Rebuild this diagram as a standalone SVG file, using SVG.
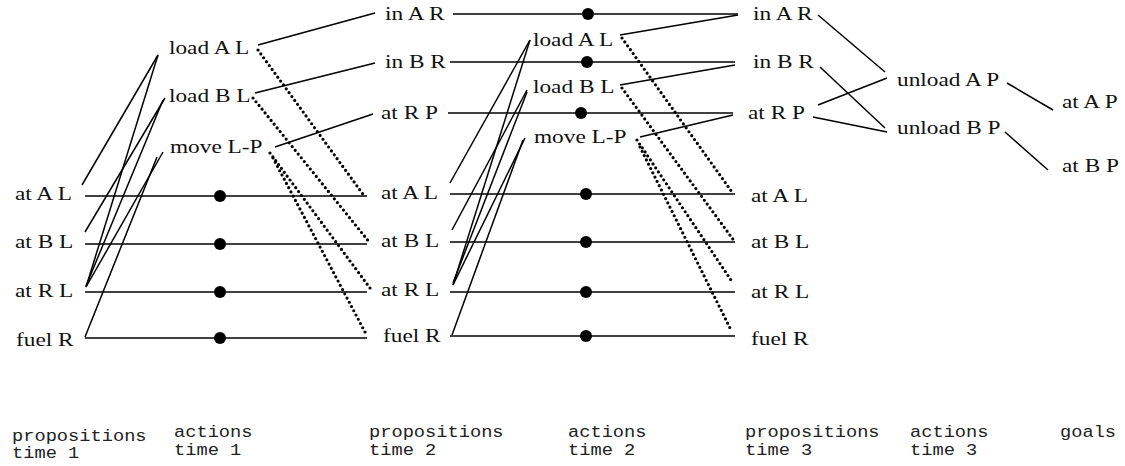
<svg xmlns="http://www.w3.org/2000/svg" width="1125" height="466" viewBox="0 0 1125 466">
<style>
.lbl{font-family:"Liberation Serif","Times New Roman",serif;font-size:18.5px;fill:#111}
.cap{font-family:"Liberation Mono","Courier New",monospace;font-size:17px;fill:#222}
.ln{stroke:#000;stroke-width:1.5;fill:none}
.dl{stroke:#000;stroke-width:3.2;stroke-linecap:round;stroke-dasharray:0 4.8;fill:none}
.dot{fill:#000}
</style>
<rect width="1125" height="466" fill="#fff"/>
<g id="connectors">
<line class="ln" x1="85" y1="196" x2="367" y2="196"/>
<line class="ln" x1="85" y1="244" x2="367" y2="244"/>
<line class="ln" x1="85" y1="292" x2="367" y2="292"/>
<line class="ln" x1="85" y1="338" x2="367" y2="338"/>
<circle class="dot" cx="220" cy="196" r="6"/>
<circle class="dot" cx="220" cy="244" r="6"/>
<circle class="dot" cx="220" cy="292" r="6"/>
<circle class="dot" cx="220" cy="338" r="6"/>
<line class="ln" x1="82" y1="185" x2="158" y2="55"/>
<line class="ln" x1="85" y1="232" x2="165" y2="98"/>
<line class="ln" x1="86" y1="287" x2="158" y2="55"/>
<line class="ln" x1="86" y1="286" x2="163" y2="100"/>
<line class="ln" x1="86" y1="287" x2="163" y2="152"/>
<line class="ln" x1="85" y1="337" x2="157" y2="157"/>
<line class="ln" x1="258" y1="45" x2="375" y2="13"/>
<line class="ln" x1="255" y1="93" x2="375" y2="63"/>
<line class="ln" x1="275" y1="147" x2="373" y2="114"/>
<line class="dl" x1="258" y1="50" x2="365" y2="197"/>
<line class="dl" x1="253" y1="98" x2="370" y2="243"/>
<line class="dl" x1="270" y1="153" x2="370" y2="288"/>
<line class="dl" x1="273" y1="158" x2="365" y2="332"/>
<line class="ln" x1="453" y1="14" x2="738" y2="14"/>
<line class="ln" x1="450" y1="62" x2="735" y2="62"/>
<line class="ln" x1="448" y1="113" x2="733" y2="113"/>
<line class="ln" x1="450" y1="194" x2="735" y2="194"/>
<line class="ln" x1="450" y1="242" x2="735" y2="242"/>
<line class="ln" x1="450" y1="292" x2="735" y2="292"/>
<line class="ln" x1="450" y1="336" x2="735" y2="336"/>
<circle class="dot" cx="588" cy="14" r="6"/>
<circle class="dot" cx="587" cy="62" r="6"/>
<circle class="dot" cx="581" cy="113" r="6"/>
<circle class="dot" cx="586" cy="194" r="6"/>
<circle class="dot" cx="586" cy="242" r="6"/>
<circle class="dot" cx="586" cy="292" r="6"/>
<circle class="dot" cx="586" cy="336" r="6"/>
<line class="ln" x1="450" y1="183" x2="530" y2="40"/>
<line class="ln" x1="452" y1="230" x2="527" y2="90"/>
<line class="ln" x1="453" y1="285" x2="530" y2="40"/>
<line class="ln" x1="453" y1="283" x2="527" y2="92"/>
<line class="ln" x1="453" y1="285" x2="525" y2="138"/>
<line class="ln" x1="452" y1="335" x2="523" y2="140"/>
<line class="ln" x1="620" y1="35" x2="738" y2="15"/>
<line class="ln" x1="620" y1="85" x2="735" y2="65"/>
<line class="ln" x1="640" y1="137" x2="733" y2="115"/>
<line class="dl" x1="622" y1="38" x2="732" y2="192"/>
<line class="dl" x1="622" y1="88" x2="735" y2="242"/>
<line class="dl" x1="637" y1="140" x2="733" y2="283"/>
<line class="dl" x1="640" y1="147" x2="730" y2="328"/>
<line class="ln" x1="818" y1="15" x2="885" y2="72"/>
<line class="ln" x1="820" y1="67" x2="885" y2="128"/>
<line class="ln" x1="818" y1="105" x2="887" y2="78"/>
<line class="ln" x1="813" y1="117" x2="887" y2="132"/>
<line class="ln" x1="1007" y1="83" x2="1053" y2="110"/>
<line class="ln" x1="1005" y1="132" x2="1048" y2="170"/>
</g>
<g id="p1-atAL"><text class="lbl" transform="translate(15,200) scale(1.26,1)">at A L</text></g>
<g id="p1-atBL"><text class="lbl" transform="translate(15,248) scale(1.26,1)">at B L</text></g>
<g id="p1-atRL"><text class="lbl" transform="translate(15,297) scale(1.26,1)">at R L</text></g>
<g id="p1-fuelR"><text class="lbl" transform="translate(16,346) scale(1.26,1)">fuel R</text></g>
<g id="a1-loadAL"><text class="lbl" transform="translate(169,54) scale(1.26,1)">load A L</text></g>
<g id="a1-loadBL"><text class="lbl" transform="translate(169,102) scale(1.26,1)">load B L</text></g>
<g id="a1-moveLP"><text class="lbl" transform="translate(170,153) scale(1.26,1)">move L-P</text></g>
<g id="p2-inAR"><text class="lbl" transform="translate(385,20) scale(1.26,1)">in A R</text></g>
<g id="p2-inBR"><text class="lbl" transform="translate(385,68) scale(1.26,1)">in B R</text></g>
<g id="p2-atRP"><text class="lbl" transform="translate(381,119) scale(1.26,1)">at R P</text></g>
<g id="p2-atAL"><text class="lbl" transform="translate(381,199) scale(1.26,1)">at A L</text></g>
<g id="p2-atBL"><text class="lbl" transform="translate(381,247) scale(1.26,1)">at B L</text></g>
<g id="p2-atRL"><text class="lbl" transform="translate(381,296) scale(1.26,1)">at R L</text></g>
<g id="p2-fuelR"><text class="lbl" transform="translate(383,342) scale(1.26,1)">fuel R</text></g>
<g id="a2-loadAL"><text class="lbl" transform="translate(533,46) scale(1.26,1)">load A L</text></g>
<g id="a2-loadBL"><text class="lbl" transform="translate(533,93) scale(1.26,1)">load B L</text></g>
<g id="a2-moveLP"><text class="lbl" transform="translate(534,143) scale(1.26,1)">move L-P</text></g>
<g id="p3-inAR"><text class="lbl" transform="translate(753,20) scale(1.26,1)">in A R</text></g>
<g id="p3-inBR"><text class="lbl" transform="translate(753,68) scale(1.26,1)">in B R</text></g>
<g id="p3-atRP"><text class="lbl" transform="translate(748,119) scale(1.26,1)">at R P</text></g>
<g id="p3-atAL"><text class="lbl" transform="translate(751,202) scale(1.26,1)">at A L</text></g>
<g id="p3-atBL"><text class="lbl" transform="translate(751,248) scale(1.26,1)">at B L</text></g>
<g id="p3-atRL"><text class="lbl" transform="translate(751,298) scale(1.26,1)">at R L</text></g>
<g id="p3-fuelR"><text class="lbl" transform="translate(751,345) scale(1.26,1)">fuel R</text></g>
<g id="a3-unloadAP"><text class="lbl" transform="translate(897,86) scale(1.26,1)">unload A P</text></g>
<g id="a3-unloadBP"><text class="lbl" transform="translate(897,134) scale(1.26,1)">unload B P</text></g>
<g id="g-atAP"><text class="lbl" transform="translate(1062,108) scale(1.26,1)">at A P</text></g>
<g id="g-atBP"><text class="lbl" transform="translate(1062,172) scale(1.26,1)">at B P</text></g>
<g id="captions">
<text class="cap" transform="translate(12,441) scale(1.1,1)">propositions</text>
<text class="cap" transform="translate(12,458) scale(1.1,1)">time 1</text>
<text class="cap" transform="translate(174,437) scale(1.1,1)">actions</text>
<text class="cap" transform="translate(174,455) scale(1.1,1)">time 1</text>
<text class="cap" transform="translate(369,437) scale(1.1,1)">propositions</text>
<text class="cap" transform="translate(369,455) scale(1.1,1)">time 2</text>
<text class="cap" transform="translate(568,437) scale(1.1,1)">actions</text>
<text class="cap" transform="translate(568,455) scale(1.1,1)">time 2</text>
<text class="cap" transform="translate(745,437) scale(1.1,1)">propositions</text>
<text class="cap" transform="translate(745,455) scale(1.1,1)">time 3</text>
<text class="cap" transform="translate(910,437) scale(1.1,1)">actions</text>
<text class="cap" transform="translate(910,455) scale(1.1,1)">time 3</text>
<text class="cap" transform="translate(1060,437) scale(1.1,1)">goals</text>
</g>
</svg>
